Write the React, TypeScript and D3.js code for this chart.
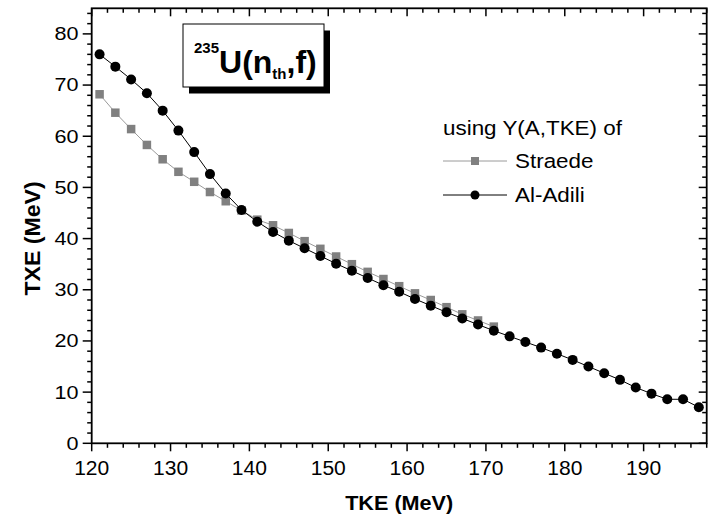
import React from "react";
import * as d3 from "d3";

const adiliTKE = [121,123,125,127,129,131,133,135,137,139,141,143,145,147,149,151,153,155,157,159,161,163,165,167,169,171,173,175,177,179,181,183,185,187,189,191,193,195,197];
const adiliTXE = [76.0,73.6,71.1,68.4,65.0,61.1,56.9,52.6,48.8,45.6,43.3,41.3,39.6,38.1,36.6,35.1,33.7,32.3,30.9,29.6,28.2,26.9,25.6,24.4,23.2,22.0,20.9,19.8,18.7,17.5,16.3,15.0,13.7,12.4,10.9,9.7,8.6,8.6,7.05];
const straedeTKE = [121,123,125,127,129,131,133,135,137,139,141,143,145,147,149,151,153,155,157,159,161,163,165,167,169,171];
const straedeTXE = [68.2,64.6,61.4,58.3,55.5,53.05,51.1,49.1,47.3,45.5,43.7,42.6,41.1,39.5,38.0,36.5,35.0,33.5,32.1,30.7,29.3,28.0,26.6,25.2,24.0,22.8];
const xMajorTicks = [120,130,140,150,160,170,180,190];
const yMajorTicks = [0,10,20,30,40,50,60,70,80];
const seriesNames = ["Straede", "Al-Adili"];
const legendTitle = "using Y(A,TKE) of";
const xTitle = "TKE (MeV)";
const yTitle = "TXE (MeV)";

const FONT = "'Liberation Sans', Arial, Helvetica, sans-serif";

export default function App() {
  const W = 711, H = 516;
  const L = 91.7, R = 706.7, T = 8.3, B = 443.3;
  const x = d3.scaleLinear().domain([120, 198]).range([L, R]);
  const y = d3.scaleLinear().domain([0, 85]).range([B, T]);
  const xMinor = d3.range(120, 198.01, 2);
  const yMinor = d3.range(0, 85.01, 2);

  const line = d3.line<[number, number]>().x(d => x(d[0])).y(d => y(d[1]));
  const sPts: [number, number][] = straedeTKE.map((t, i) => [t, straedeTXE[i]]);
  const aPts: [number, number][] = adiliTKE.map((t, i) => [t, adiliTXE[i]]);

  const sq = 8.5;
  const grayLine = "#9a9a9a";
  const grayFill = "#808080";
  const lsx = 1.15;

  return (
    <svg width={W} height={H} style={{ position: "absolute", left: 0, top: 0, background: "#fff" }} fontFamily={FONT}>
      <rect x={0} y={0} width={W} height={H} fill="#fff" />
      <path d={line(sPts) || ""} fill="none" stroke={grayLine} strokeWidth={1} />
      {sPts.map((p, i) => (
        <rect key={"s" + i} x={x(p[0]) - sq / 2} y={y(p[1]) - sq / 2} width={sq} height={sq} fill={grayFill} />
      ))}
      <path d={line(aPts) || ""} fill="none" stroke="#000" strokeWidth={1} />
      {aPts.map((p, i) => (
        <circle key={"a" + i} cx={x(p[0])} cy={y(p[1])} r={5} fill="#000" />
      ))}

      <rect x={L} y={T} width={R - L} height={B - T} fill="none" stroke="#000" strokeWidth={1.8} />
      {xMinor.map((v, i) => {
        const major = xMajorTicks.includes(v);
        return <line key={"bx" + i} x1={x(v)} x2={x(v)} y1={B} y2={B + (major ? 8 : 4.5)} stroke="#000" strokeWidth={1.5} />;
      })}
      {xMinor.map((v, i) => {
        const major = xMajorTicks.includes(v);
        return <line key={"tx" + i} x1={x(v)} x2={x(v)} y1={T} y2={T + (major ? 8 : 4.5)} stroke="#000" strokeWidth={1.5} />;
      })}
      {yMinor.map((v, i) => {
        const major = yMajorTicks.includes(v);
        return <line key={"ly" + i} x1={L} x2={L - (major ? 9 : 4.5)} y1={y(v)} y2={y(v)} stroke="#000" strokeWidth={1.5} />;
      })}
      {yMinor.map((v, i) => {
        const major = yMajorTicks.includes(v);
        return <line key={"ry" + i} x1={R} x2={R - (major ? 8 : 4.5)} y1={y(v)} y2={y(v)} stroke="#000" strokeWidth={1.5} />;
      })}
      {xMajorTicks.map(v => (
        <text key={"xl" + v} transform={`translate(${x(v)},475) scale(1.08,1)`} textAnchor="middle" fontSize={19.5}>{v}</text>
      ))}
      {yMajorTicks.map(v => (
        <text key={"yl" + v} transform={`translate(78.5,${y(v) + 6.4}) scale(1.2,1)`} textAnchor="end" fontSize={18}>{v}</text>
      ))}
      <text transform={`translate(${(L + R) / 2},510) scale(1.03,1)`} textAnchor="middle" fontSize={21} fontWeight="bold">{xTitle}</text>
      <text transform={`translate(39.5,238.5) rotate(-90) scale(1.05,1)`} textAnchor="middle" fontSize={22} fontWeight="bold">{yTitle}</text>

      <rect x={189} y={30.5} width={141} height={63} fill="#000" />
      <rect x={183} y={24} width={141} height={63} fill="#fff" stroke="#000" strokeWidth={1} />
      <text x={194} y={72.5} fontWeight="bold" fontSize={32}>
        <tspan fontSize={15} dy={-19.5}>235</tspan>
        <tspan dy={19.5}>U(n</tspan>
        <tspan fontSize={15} dy={6.5}>th</tspan>
        <tspan dy={-6.5}>,f)</tspan>
      </text>

      <text transform={`translate(443,135) scale(${lsx},1)`} fontSize={19.5}>{legendTitle}</text>
      <line x1={443} x2={507} y1={161} y2={161} stroke={grayLine} strokeWidth={1} />
      <rect x={475 - 4} y={161 - 4} width={8} height={8} fill={grayFill} />
      <text transform={`translate(515,167.5) scale(${lsx},1)`} fontSize={19.5}>{seriesNames[0]}</text>
      <line x1={443} x2={507} y1={195} y2={195} stroke="#000" strokeWidth={1} />
      <circle cx={475} cy={195} r={4.5} fill="#000" />
      <text transform={`translate(515,201.5) scale(${lsx},1)`} fontSize={19.5}>{seriesNames[1]}</text>
    </svg>
  );
}
